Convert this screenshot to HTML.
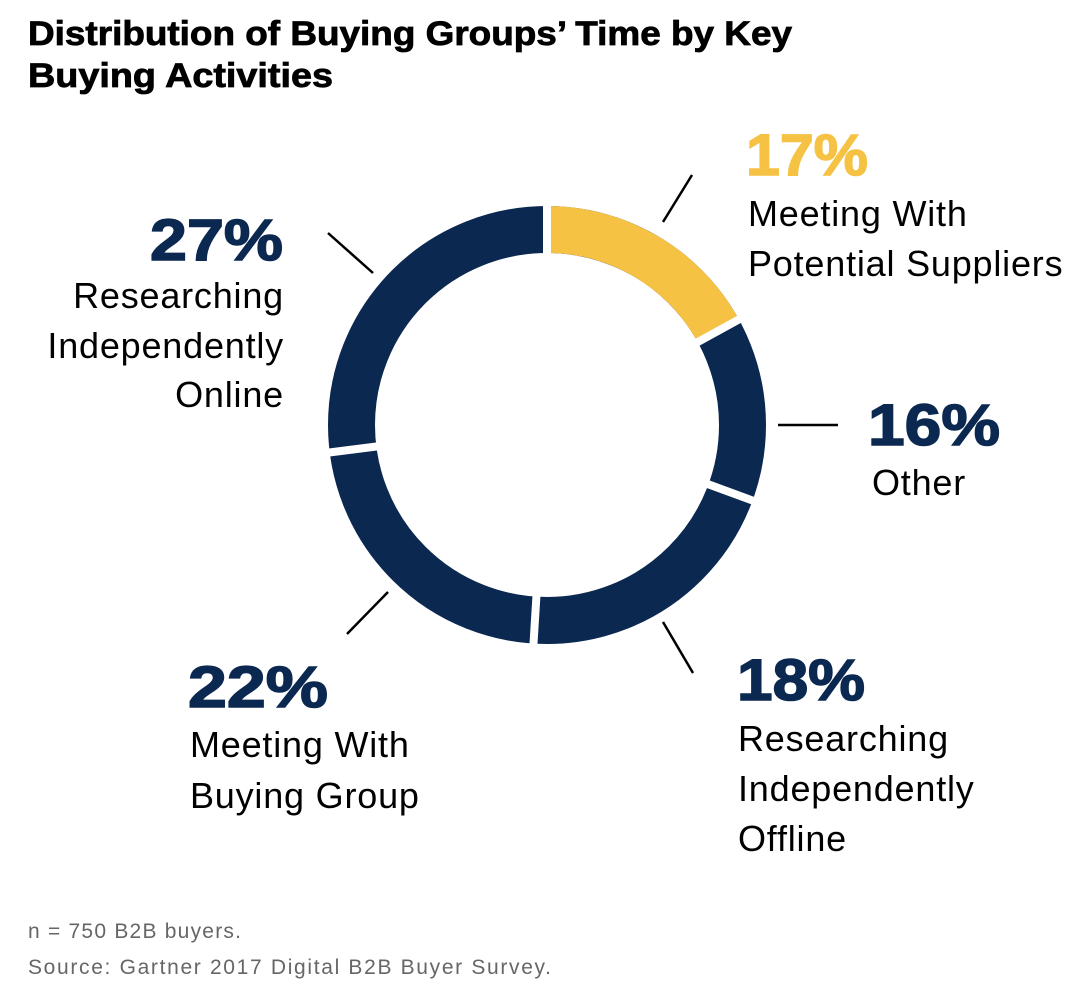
<!DOCTYPE html>
<html><head><meta charset="utf-8"><style>
html,body{margin:0;padding:0;background:#fff;}
svg{display:block;}
text{font-family:"Liberation Sans",sans-serif;}
</style></head><body>
<svg width="1080" height="998" viewBox="0 0 1080 998" xmlns="http://www.w3.org/2000/svg">
<text x="28" y="45" font-size="34" font-weight="bold" fill="#000" stroke="#000" stroke-width="0.8" textLength="764" lengthAdjust="spacingAndGlyphs">Distribution of Buying Groups’ Time by Key</text>
<text x="28" y="87" font-size="34" font-weight="bold" fill="#000" stroke="#000" stroke-width="0.8" textLength="305" lengthAdjust="spacingAndGlyphs">Buying Activities</text>

<g transform="translate(547,425) rotate(-90)">
  <circle r="195.5" fill="none" stroke="#0b2851" stroke-width="47"/>
  <circle r="195.5" fill="none" stroke="#f5c244" stroke-width="47" stroke-dasharray="208.8 2000"/>
</g>
<g stroke="#fff" stroke-width="8">
  <line x1="547" y1="425" x2="547" y2="190"/>
  <line x1="547" y1="425" x2="759.3" y2="308.2"/>
  <line x1="547" y1="425" x2="771.1" y2="507.3"/>
  <line x1="547" y1="425" x2="532.2" y2="664.6"/>
  <line x1="547" y1="425" x2="308.5" y2="455.1"/>
</g>

<g stroke="#000" stroke-width="2.5">
  <line x1="663" y1="222" x2="692" y2="175"/>
  <line x1="778" y1="425" x2="838" y2="425"/>
  <line x1="663" y1="622" x2="693" y2="673"/>
  <line x1="388" y1="592" x2="347" y2="634"/>
  <line x1="328" y1="233" x2="373" y2="273"/>
</g>

<g font-weight="bold" font-size="58" stroke-width="1.5">
  <text x="746" y="175" fill="#f5c244" stroke="#f5c244" textLength="122" lengthAdjust="spacingAndGlyphs">17%</text>
  <text x="150" y="260" fill="#0b2851" stroke="#0b2851" textLength="133" lengthAdjust="spacingAndGlyphs">27%</text>
  <text x="868" y="445" fill="#0b2851" stroke="#0b2851" textLength="132" lengthAdjust="spacingAndGlyphs">16%</text>
  <text x="188" y="707" fill="#0b2851" stroke="#0b2851" textLength="140" lengthAdjust="spacingAndGlyphs">22%</text>
  <text x="737" y="700" fill="#0b2851" stroke="#0b2851" textLength="128" lengthAdjust="spacingAndGlyphs">18%</text>
</g>
<g font-size="36" fill="#000" letter-spacing="0.8">
  <text x="748" y="226">Meeting With</text>
  <text x="748" y="276">Potential Suppliers</text>
  <text x="284" y="308" text-anchor="end">Researching</text>
  <text x="284" y="358" text-anchor="end">Independently</text>
  <text x="284" y="407" text-anchor="end">Online</text>
  <text x="872" y="495">Other</text>
  <text x="190" y="757">Meeting With</text>
  <text x="190" y="808">Buying Group</text>
  <text x="738" y="751">Researching</text>
  <text x="738" y="801">Independently</text>
  <text x="738" y="851">Offline</text>
</g>
<g font-size="21" fill="#666">
  <text x="28" y="938" textLength="213" lengthAdjust="spacing">n = 750 B2B buyers.</text>
  <text x="28" y="974" textLength="523" lengthAdjust="spacing">Source: Gartner 2017 Digital B2B Buyer Survey.</text>
</g>
</svg>
</body></html>
